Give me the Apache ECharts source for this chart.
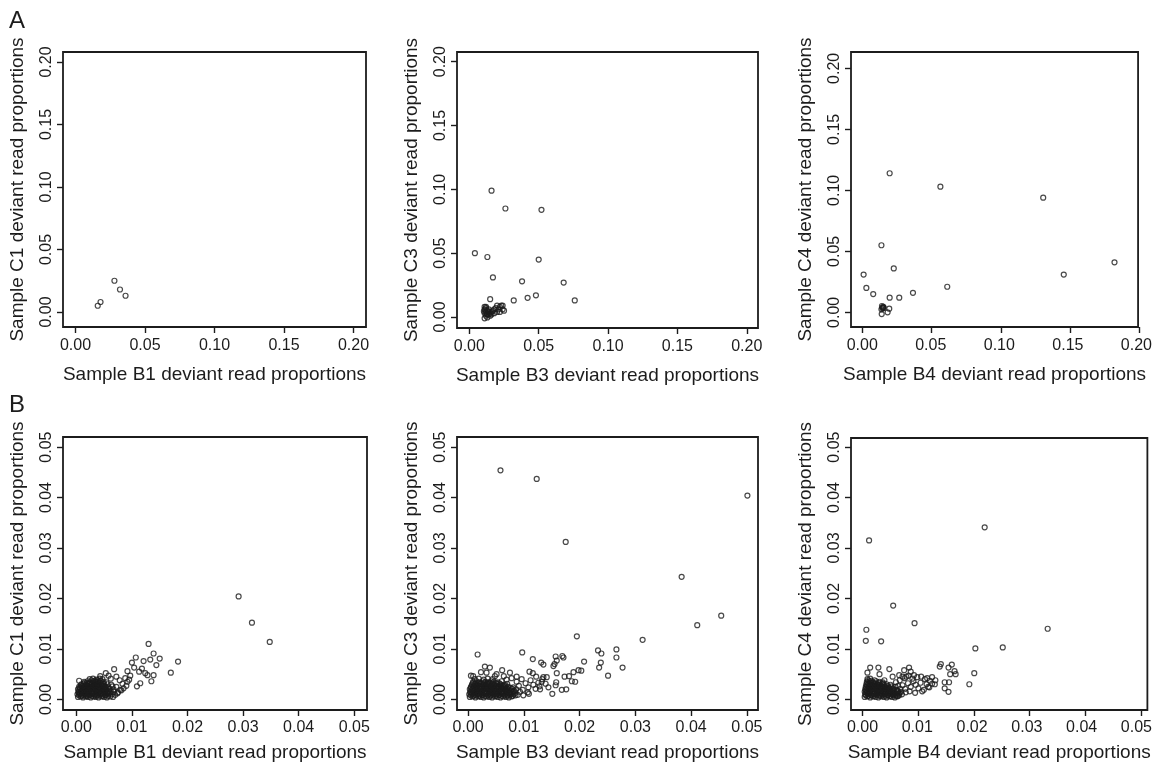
<!DOCTYPE html>
<html>
<head>
<meta charset="utf-8">
<title>Deviant read proportions</title>
<script src="https://cdn.jsdelivr.net/npm/echarts@6.0.0/dist/echarts.min.js"></script>
<style>
html, body { margin: 0; padding: 0; background: #fff; }
#chart { width: 1155px; height: 765px; }
</style>
</head>
<body>
<div id="chart"></div>
<script>
// tick labels
var topTicks = [0, 0.05, 0.10, 0.15, 0.20];
var bottomTicks = [0, 0.01, 0.02, 0.03, 0.04, 0.05];

var xNames = ['Sample B1 deviant read proportions', 'Sample B3 deviant read proportions', 'Sample B4 deviant read proportions'];
var yNames = ['Sample C1 deviant read proportions', 'Sample C3 deviant read proportions', 'Sample C4 deviant read proportions'];

// panel A  [B, C]
var a1Points = [[0.016, 0.005], [0.018, 0.008], [0.028, 0.025], [0.032, 0.018], [0.036, 0.013]];

var a2Points = [
    [0.004, 0.050], [0.013, 0.047], [0.016, 0.099], [0.026, 0.085], [0.052, 0.084], [0.050, 0.045],
    [0.017, 0.031], [0.038, 0.028], [0.068, 0.027], [0.048, 0.017], [0.015, 0.014], [0.042, 0.015],
    [0.032, 0.013], [0.076, 0.013],
    [0.011, 0.008], [0.011, 0.006], [0.012, 0.004], [0.011, 0.003], [0.012, 0.001], [0.011, -0.001],
    [0.013, -0.0003], [0.014, 0.002], [0.015, 0.001], [0.014, 0.004], [0.016, 0.004], [0.017, 0.005],
    [0.018, 0.006], [0.020, 0.009], [0.022, 0.008], [0.023, 0.009], [0.024, 0.006], [0.025, 0.005],
    [0.022, 0.004], [0.020, 0.004], [0.018, 0.003], [0.016, 0.002], [0.014, 0.006], [0.012, 0.008],
    [0.013, 0.005], [0.015, 0.003], [0.019, 0.007], [0.024, 0.009], [0.021, 0.006], [0.012, 0.007],
    [0.013, 0.002], [0.0115, 0.0055], [0.0125, 0.0025], [0.0105, 0.0045]
];

var a3Points = [
    [0.020, 0.114], [0.057, 0.103], [0.132, 0.094], [0.014, 0.055], [0.184, 0.041], [0.001, 0.031],
    [0.023, 0.036], [0.147, 0.031], [0.003, 0.020], [0.062, 0.021], [0.008, 0.015], [0.037, 0.016],
    [0.020, 0.012], [0.027, 0.012], [0.0144, 0.0052], [0.0152, 0.0041], [0.014, 0.0025], [0.0142, -0.0014],
    [0.0185, 0.0], [0.0197, 0.003], [0.0154, 0.0046], [0.0147, 0.0033], [0.0156, 0.0036], [0.0150, 0.0040]
];

// panel B  [B, C]: outliers and the outer part of the cloud
var b1Points = [
    [0.0292, 0.0204], [0.0316, 0.0152], [0.0348, 0.0114], [0.0183, 0.0075], [0.0170, 0.0053], [0.0130, 0.0110],
    [0.0139, 0.0091], [0.0150, 0.0081], [0.0144, 0.0068], [0.0139, 0.0048], [0.0135, 0.0036], [0.0128, 0.0048],
    [0.0121, 0.0076], [0.0133, 0.0079], [0.0107, 0.0083], [0.0100, 0.0073], [0.0104, 0.0063], [0.0113, 0.0055],
    [0.0109, 0.0026], [0.0115, 0.0032], [0.0092, 0.0056], [0.0068, 0.0060], [0.0053, 0.0052], [0.0043, 0.0046],
    [0.0005, 0.0037], [0.0118, 0.0061], [0.0124, 0.0052], [0.0097, 0.0047],
    [0.0003, 0.0005], [0.0008, 0.0006], [0.0012, 0.0004], [0.0017, 0.0006], [0.0021, 0.0005], [0.0026, 0.0004],
    [0.0031, 0.0006], [0.0035, 0.0005], [0.0040, 0.0004], [0.0045, 0.0006], [0.0050, 0.0005], [0.0055, 0.0004],
    [0.0061, 0.0006], [0.0066, 0.0005],
    [0.0002, 0.0010], [0.0006, 0.0011], [0.0011, 0.0009], [0.0015, 0.0011], [0.0020, 0.0010], [0.0024, 0.0009],
    [0.0029, 0.0011], [0.0034, 0.0010], [0.0038, 0.0009], [0.0043, 0.0011], [0.0048, 0.0010], [0.0053, 0.0009],
    [0.0058, 0.0011], [0.0064, 0.0010], [0.0070, 0.0009],
    [0.0004, 0.0015], [0.0009, 0.0016], [0.0013, 0.0014], [0.0018, 0.0016], [0.0022, 0.0015], [0.0027, 0.0014],
    [0.0032, 0.0016], [0.0036, 0.0015], [0.0041, 0.0014], [0.0046, 0.0016], [0.0051, 0.0015], [0.0056, 0.0014],
    [0.0062, 0.0016], [0.0068, 0.0015], [0.0075, 0.0014],
    [0.0003, 0.0020], [0.0007, 0.0021], [0.0012, 0.0019], [0.0016, 0.0021], [0.0021, 0.0020], [0.0025, 0.0019],
    [0.0030, 0.0021], [0.0034, 0.0020], [0.0039, 0.0019], [0.0044, 0.0021], [0.0049, 0.0020], [0.0054, 0.0019],
    [0.0060, 0.0021], [0.0067, 0.0020], [0.0079, 0.0019],
    [0.0005, 0.0025], [0.0010, 0.0026], [0.0014, 0.0024], [0.0019, 0.0026], [0.0023, 0.0025], [0.0028, 0.0024],
    [0.0033, 0.0026], [0.0037, 0.0025], [0.0042, 0.0024], [0.0047, 0.0026], [0.0052, 0.0025], [0.0058, 0.0024],
    [0.0065, 0.0026], [0.0072, 0.0025],
    [0.0009, 0.0030], [0.0013, 0.0031], [0.0018, 0.0029], [0.0022, 0.0031], [0.0027, 0.0030], [0.0031, 0.0029],
    [0.0036, 0.0031], [0.0040, 0.0030], [0.0045, 0.0029], [0.0050, 0.0031], [0.0056, 0.0030], [0.0063, 0.0029],
    [0.0014, 0.0035], [0.0020, 0.0036], [0.0025, 0.0034], [0.0030, 0.0036], [0.0035, 0.0035], [0.0039, 0.0034],
    [0.0044, 0.0036], [0.0049, 0.0035], [0.0054, 0.0034],
    [0.0024, 0.0040], [0.0030, 0.0041], [0.0036, 0.0039], [0.0042, 0.0041], [0.0047, 0.0040],
    [0.0072, 0.0045], [0.0078, 0.0038], [0.0083, 0.0031], [0.0088, 0.0042], [0.0092, 0.0035], [0.0085, 0.0022],
    [0.0090, 0.0027], [0.0095, 0.0039], [0.0081, 0.0018], [0.0074, 0.0012], [0.0062, 0.0041], [0.0058, 0.0047]
];

// panel B1: solid core of the cloud
var b1Core = [
    [0.0005, 0.0008], [0.0010, 0.0007], [0.0015, 0.0008], [0.0019, 0.0007], [0.0023, 0.0008], [0.0028, 0.0007],
    [0.0033, 0.0008], [0.0037, 0.0007], [0.0042, 0.0008], [0.0047, 0.0007], [0.0052, 0.0008], [0.0057, 0.0007],
    [0.0004, 0.0013], [0.0008, 0.0012], [0.0013, 0.0013], [0.0017, 0.0012], [0.0022, 0.0013], [0.0026, 0.0012],
    [0.0031, 0.0013], [0.0035, 0.0012], [0.0040, 0.0013], [0.0045, 0.0012], [0.0050, 0.0013], [0.0055, 0.0012],
    [0.0060, 0.0013],
    [0.0005, 0.0018], [0.0010, 0.0017], [0.0014, 0.0018], [0.0019, 0.0017], [0.0024, 0.0018], [0.0029, 0.0017],
    [0.0033, 0.0018], [0.0038, 0.0017], [0.0043, 0.0018], [0.0048, 0.0017], [0.0053, 0.0018], [0.0058, 0.0017],
    [0.0006, 0.0023], [0.0011, 0.0022], [0.0015, 0.0023], [0.0020, 0.0022], [0.0025, 0.0023], [0.0030, 0.0022],
    [0.0035, 0.0023], [0.0039, 0.0022], [0.0044, 0.0023], [0.0049, 0.0022], [0.0054, 0.0023],
    [0.0008, 0.0028], [0.0012, 0.0027], [0.0017, 0.0028], [0.0021, 0.0027], [0.0026, 0.0028], [0.0031, 0.0027],
    [0.0035, 0.0028], [0.0040, 0.0027], [0.0045, 0.0028], [0.0050, 0.0027],
    [0.0015, 0.0033], [0.0019, 0.0032], [0.0024, 0.0033], [0.0029, 0.0032], [0.0033, 0.0033], [0.0038, 0.0032],
    [0.0043, 0.0033], [0.0047, 0.0032],
    [0.0027, 0.0038], [0.0033, 0.0037], [0.0039, 0.0038], [0.0044, 0.0037]
];

var b2Points = [
    [0.0058, 0.0454], [0.0123, 0.0437], [0.0501, 0.0404], [0.0175, 0.0312], [0.0383, 0.0243], [0.0454, 0.0166],
    [0.0411, 0.0147], [0.0195, 0.0125], [0.0313, 0.0118], [0.0017, 0.0089], [0.0097, 0.0093], [0.0233, 0.0097],
    [0.0266, 0.0099], [0.0239, 0.0091], [0.0266, 0.0083], [0.0235, 0.0063], [0.0238, 0.0073], [0.0277, 0.0063],
    [0.0251, 0.0047], [0.0208, 0.0075], [0.0203, 0.0057], [0.0198, 0.0058], [0.0189, 0.0054], [0.0186, 0.0036],
    [0.0192, 0.0035], [0.0176, 0.0020], [0.0168, 0.0019], [0.0157, 0.0085], [0.0159, 0.0077], [0.0155, 0.0070],
    [0.0153, 0.0066], [0.0169, 0.0086], [0.0171, 0.0083], [0.0159, 0.0052], [0.0173, 0.0045], [0.0181, 0.0046],
    [0.0158, 0.0034], [0.0157, 0.0028], [0.0151, 0.0011], [0.0116, 0.0080], [0.0131, 0.0073], [0.0135, 0.0069],
    [0.0110, 0.0055], [0.0116, 0.0052], [0.0122, 0.0045], [0.0135, 0.0044], [0.0141, 0.0044], [0.0132, 0.0035],
    [0.0129, 0.0020], [0.0109, 0.0011], [0.0087, 0.0045], [0.0075, 0.0053], [0.0064, 0.0046], [0.0061, 0.0058],
    [0.0051, 0.0050], [0.0030, 0.0065], [0.0039, 0.0063], [0.0023, 0.0054], [0.0009, 0.0046], [0.0005, 0.0047],
    [0.0033, 0.0053], [0.0048, 0.0046],
    [0.0003, 0.0005], [0.0008, 0.0006], [0.0013, 0.0004], [0.0018, 0.0006], [0.0023, 0.0005], [0.0028, 0.0004],
    [0.0033, 0.0006], [0.0038, 0.0005], [0.0043, 0.0004], [0.0048, 0.0006], [0.0053, 0.0005], [0.0058, 0.0004],
    [0.0063, 0.0006], [0.0068, 0.0005], [0.0073, 0.0004], [0.0078, 0.0006],
    [0.0002, 0.0010], [0.0007, 0.0011], [0.0012, 0.0009], [0.0016, 0.0011], [0.0021, 0.0010], [0.0026, 0.0009],
    [0.0031, 0.0011], [0.0036, 0.0010], [0.0041, 0.0009], [0.0046, 0.0011], [0.0051, 0.0010], [0.0056, 0.0009],
    [0.0061, 0.0011], [0.0066, 0.0010], [0.0071, 0.0009], [0.0076, 0.0011], [0.0082, 0.0010], [0.0089, 0.0009],
    [0.0004, 0.0015], [0.0009, 0.0016], [0.0014, 0.0014], [0.0019, 0.0016], [0.0024, 0.0015], [0.0029, 0.0014],
    [0.0034, 0.0016], [0.0039, 0.0015], [0.0044, 0.0014], [0.0049, 0.0016], [0.0054, 0.0015], [0.0059, 0.0014],
    [0.0064, 0.0016], [0.0069, 0.0015], [0.0075, 0.0014], [0.0081, 0.0016], [0.0093, 0.0015],
    [0.0003, 0.0020], [0.0008, 0.0021], [0.0013, 0.0019], [0.0017, 0.0021], [0.0022, 0.0020], [0.0027, 0.0019],
    [0.0032, 0.0021], [0.0037, 0.0020], [0.0042, 0.0019], [0.0047, 0.0021], [0.0052, 0.0020], [0.0057, 0.0019],
    [0.0062, 0.0021], [0.0067, 0.0020], [0.0073, 0.0019], [0.0079, 0.0021], [0.0086, 0.0020], [0.0098, 0.0019],
    [0.0005, 0.0025], [0.0010, 0.0026], [0.0015, 0.0024], [0.0020, 0.0026], [0.0025, 0.0025], [0.0030, 0.0024],
    [0.0035, 0.0026], [0.0040, 0.0025], [0.0045, 0.0024], [0.0050, 0.0026], [0.0055, 0.0025], [0.0060, 0.0024],
    [0.0066, 0.0026], [0.0072, 0.0025], [0.0081, 0.0024],
    [0.0007, 0.0030], [0.0012, 0.0031], [0.0017, 0.0029], [0.0022, 0.0031], [0.0027, 0.0030], [0.0032, 0.0029],
    [0.0037, 0.0031], [0.0042, 0.0030], [0.0047, 0.0029], [0.0052, 0.0031], [0.0058, 0.0030], [0.0064, 0.0029],
    [0.0070, 0.0031],
    [0.0009, 0.0035], [0.0015, 0.0036], [0.0020, 0.0034], [0.0026, 0.0036], [0.0031, 0.0035], [0.0036, 0.0034],
    [0.0041, 0.0036], [0.0046, 0.0035], [0.0053, 0.0034], [0.0060, 0.0036],
    [0.0012, 0.0040], [0.0019, 0.0041], [0.0028, 0.0039], [0.0035, 0.0041], [0.0044, 0.0040],
    [0.0103, 0.0032], [0.0108, 0.0024], [0.0112, 0.0038], [0.0117, 0.0029], [0.0096, 0.0040], [0.0091, 0.0027],
    [0.0087, 0.0035], [0.0121, 0.0021], [0.0126, 0.0033], [0.0107, 0.0014], [0.0099, 0.0008], [0.0128, 0.0026],
    [0.0133, 0.0040], [0.0139, 0.0031], [0.0144, 0.0024], [0.0078, 0.0042], [0.0069, 0.0039]
];

var b2Core = [
    [0.0005, 0.0008], [0.0010, 0.0007], [0.0015, 0.0008], [0.0020, 0.0007], [0.0025, 0.0008], [0.0030, 0.0007],
    [0.0035, 0.0008], [0.0040, 0.0007], [0.0045, 0.0008], [0.0050, 0.0007], [0.0055, 0.0008], [0.0060, 0.0007],
    [0.0065, 0.0008], [0.0070, 0.0007], [0.0075, 0.0008], [0.0080, 0.0007], [0.0085, 0.0008],
    [0.0004, 0.0013], [0.0009, 0.0012], [0.0014, 0.0013], [0.0019, 0.0012], [0.0024, 0.0013], [0.0029, 0.0012],
    [0.0034, 0.0013], [0.0039, 0.0012], [0.0044, 0.0013], [0.0049, 0.0012], [0.0054, 0.0013], [0.0059, 0.0012],
    [0.0064, 0.0013], [0.0069, 0.0012], [0.0074, 0.0013], [0.0079, 0.0012], [0.0085, 0.0013],
    [0.0006, 0.0018], [0.0011, 0.0017], [0.0016, 0.0018], [0.0021, 0.0017], [0.0026, 0.0018], [0.0031, 0.0017],
    [0.0036, 0.0018], [0.0041, 0.0017], [0.0046, 0.0018], [0.0051, 0.0017], [0.0056, 0.0018], [0.0061, 0.0017],
    [0.0066, 0.0018], [0.0071, 0.0017], [0.0077, 0.0018], [0.0083, 0.0017],
    [0.0005, 0.0023], [0.0010, 0.0022], [0.0015, 0.0023], [0.0020, 0.0022], [0.0025, 0.0023], [0.0030, 0.0022],
    [0.0035, 0.0023], [0.0040, 0.0022], [0.0045, 0.0023], [0.0050, 0.0022], [0.0055, 0.0023], [0.0060, 0.0022],
    [0.0065, 0.0023], [0.0070, 0.0022], [0.0076, 0.0023],
    [0.0007, 0.0028], [0.0012, 0.0027], [0.0017, 0.0028], [0.0022, 0.0027], [0.0027, 0.0028], [0.0032, 0.0027],
    [0.0037, 0.0028], [0.0042, 0.0027], [0.0047, 0.0028], [0.0052, 0.0027], [0.0057, 0.0028], [0.0062, 0.0027],
    [0.0067, 0.0028],
    [0.0009, 0.0033], [0.0014, 0.0032], [0.0019, 0.0033], [0.0024, 0.0032], [0.0029, 0.0033], [0.0034, 0.0032],
    [0.0039, 0.0033], [0.0044, 0.0032], [0.0050, 0.0033], [0.0056, 0.0032]
];

var b3Points = [
    [0.0223, 0.0341], [0.0012, 0.0315], [0.0056, 0.0186], [0.0095, 0.0151], [0.0338, 0.0140], [0.0007, 0.0138],
    [0.0006, 0.0116], [0.0034, 0.0115], [0.0206, 0.0101], [0.0256, 0.0103], [0.0204, 0.0052], [0.0195, 0.0030],
    [0.0143, 0.0070], [0.0141, 0.0065], [0.0163, 0.0069], [0.0157, 0.0063], [0.0160, 0.0050], [0.0168, 0.0056],
    [0.0170, 0.0050], [0.0150, 0.0034], [0.0158, 0.0034], [0.0150, 0.0022], [0.0157, 0.0015], [0.0132, 0.0030],
    [0.0133, 0.0038], [0.0123, 0.0037], [0.0127, 0.0044], [0.0120, 0.0025], [0.0112, 0.0019], [0.0114, 0.0040],
    [0.0100, 0.0044], [0.0094, 0.0048], [0.0088, 0.0055], [0.0085, 0.0063], [0.0076, 0.0058], [0.0080, 0.0045],
    [0.0065, 0.0027], [0.0064, 0.0007], [0.0049, 0.0060], [0.0029, 0.0063], [0.0014, 0.0063], [0.0009, 0.0053],
    [0.0040, 0.0038], [0.0031, 0.0050], [0.0055, 0.0045], [0.0067, 0.0048], [0.0073, 0.0045],
    [0.0004, 0.0005], [0.0009, 0.0006], [0.0014, 0.0004], [0.0019, 0.0006], [0.0024, 0.0005], [0.0029, 0.0004],
    [0.0034, 0.0006], [0.0039, 0.0005], [0.0044, 0.0004], [0.0049, 0.0006], [0.0054, 0.0005], [0.0059, 0.0004],
    [0.0064, 0.0006],
    [0.0005, 0.0010], [0.0010, 0.0011], [0.0015, 0.0009], [0.0020, 0.0011], [0.0025, 0.0010], [0.0030, 0.0009],
    [0.0035, 0.0011], [0.0040, 0.0010], [0.0045, 0.0009], [0.0050, 0.0011], [0.0055, 0.0010], [0.0060, 0.0009],
    [0.0066, 0.0011], [0.0072, 0.0010],
    [0.0004, 0.0015], [0.0008, 0.0016], [0.0013, 0.0014], [0.0018, 0.0016], [0.0023, 0.0015], [0.0028, 0.0014],
    [0.0033, 0.0016], [0.0038, 0.0015], [0.0043, 0.0014], [0.0048, 0.0016], [0.0053, 0.0015], [0.0058, 0.0014],
    [0.0064, 0.0016], [0.0070, 0.0015], [0.0079, 0.0014],
    [0.0005, 0.0020], [0.0010, 0.0021], [0.0015, 0.0019], [0.0020, 0.0021], [0.0025, 0.0020], [0.0030, 0.0019],
    [0.0035, 0.0021], [0.0040, 0.0020], [0.0045, 0.0019], [0.0050, 0.0021], [0.0056, 0.0020], [0.0062, 0.0019],
    [0.0069, 0.0021],
    [0.0006, 0.0025], [0.0011, 0.0026], [0.0016, 0.0024], [0.0021, 0.0026], [0.0026, 0.0025], [0.0031, 0.0024],
    [0.0036, 0.0026], [0.0041, 0.0025], [0.0047, 0.0024], [0.0053, 0.0026], [0.0060, 0.0025],
    [0.0007, 0.0030], [0.0012, 0.0031], [0.0017, 0.0029], [0.0022, 0.0031], [0.0027, 0.0030], [0.0032, 0.0029],
    [0.0038, 0.0031], [0.0044, 0.0030], [0.0051, 0.0029],
    [0.0008, 0.0035], [0.0013, 0.0036], [0.0019, 0.0034], [0.0025, 0.0036], [0.0031, 0.0035], [0.0037, 0.0034],
    [0.0009, 0.0040], [0.0014, 0.0041],
    [0.0073, 0.0028], [0.0078, 0.0021], [0.0083, 0.0032], [0.0088, 0.0025], [0.0093, 0.0036], [0.0097, 0.0029],
    [0.0102, 0.0022], [0.0106, 0.0033], [0.0109, 0.0016], [0.0117, 0.0030], [0.0122, 0.0024], [0.0127, 0.0031],
    [0.0061, 0.0034], [0.0068, 0.0038], [0.0077, 0.0042], [0.0084, 0.0047], [0.0091, 0.0041], [0.0107, 0.0045],
    [0.0118, 0.0042], [0.0086, 0.0016], [0.0096, 0.0013]
];

var b3Core = [
    [0.0006, 0.0008], [0.0011, 0.0007], [0.0016, 0.0008], [0.0021, 0.0007], [0.0026, 0.0008], [0.0031, 0.0007],
    [0.0036, 0.0008], [0.0041, 0.0007], [0.0046, 0.0008], [0.0051, 0.0007], [0.0056, 0.0008], [0.0061, 0.0007],
    [0.0067, 0.0008],
    [0.0007, 0.0013], [0.0012, 0.0012], [0.0017, 0.0013], [0.0022, 0.0012], [0.0027, 0.0013], [0.0032, 0.0012],
    [0.0037, 0.0013], [0.0042, 0.0012], [0.0047, 0.0013], [0.0052, 0.0012], [0.0057, 0.0013], [0.0062, 0.0012],
    [0.0068, 0.0013],
    [0.0006, 0.0018], [0.0011, 0.0017], [0.0016, 0.0018], [0.0021, 0.0017], [0.0026, 0.0018], [0.0031, 0.0017],
    [0.0036, 0.0018], [0.0041, 0.0017], [0.0046, 0.0018], [0.0051, 0.0017], [0.0057, 0.0018], [0.0064, 0.0017],
    [0.0007, 0.0023], [0.0012, 0.0022], [0.0017, 0.0023], [0.0022, 0.0022], [0.0027, 0.0023], [0.0032, 0.0022],
    [0.0037, 0.0023], [0.0042, 0.0022], [0.0048, 0.0023], [0.0055, 0.0022],
    [0.0008, 0.0028], [0.0013, 0.0027], [0.0018, 0.0028], [0.0023, 0.0027], [0.0028, 0.0028], [0.0033, 0.0027],
    [0.0039, 0.0028], [0.0046, 0.0027],
    [0.0009, 0.0033], [0.0014, 0.0032], [0.0019, 0.0033], [0.0024, 0.0032], [0.0030, 0.0033], [0.0036, 0.0032],
    [0.0010, 0.0038], [0.0016, 0.0037], [0.0022, 0.0038]
];

// layout: box = [left, top, width, height] in px, x / y = axis extent of that box
var panels = [
    { box: [63, 52, 303, 275], x: [-0.009, 0.209], y: [-0.012, 0.208], ticks: topTicks, data: a1Points, col: 0, row: 0 },
    { box: [457, 52, 301, 276], x: [-0.0089, 0.2081], y: [-0.0086, 0.2076], ticks: topTicks, data: a2Points, col: 1, row: 0 },
    { box: [851, 52, 290, 275], x: [-0.0082, 0.2012], y: [-0.012, 0.2134], ticks: topTicks, data: a3Points, col: 2, row: 0 },
    { box: [63, 437, 304, 273], x: [-0.0024, 0.0523], y: [-0.0021, 0.052], ticks: bottomTicks, data: b1Points.concat(b1Core), col: 0, row: 1 },
    { box: [457, 437, 301, 273], x: [-0.002, 0.052], y: [-0.0021, 0.052], ticks: bottomTicks, data: b2Points.concat(b2Core), col: 1, row: 1 },
    { box: [851, 438, 301, 272], x: [-0.0021, 0.052], y: [-0.0021, 0.0518], ticks: bottomTicks, data: b3Points.concat(b3Core), col: 2, row: 1 }
];

var fontFamily = '"Liberation Sans", Arial, Helvetica, sans-serif';
var ink = '#1c1c1c';
var n = panels.length;
var pad = 12; // tick grids reach this far past the frame so the ticks fall inside them

var grids = [], xAxes = [], yAxes = [], series = [];

function labelOpt(ticks, margin, rotate) {
    return {
        customValues: ticks,
        margin: margin,
        rotate: rotate,
        fontFamily: fontFamily, fontSize: 16, color: ink,
        formatter: function (v) { return v.toFixed(2); }
    };
}

// axis that only draws ticks; it sits "on zero" of the helper in its grid
function tickAxis(gridIndex, min, max, ticks) {
    return {
        gridIndex: gridIndex,
        type: 'value',
        min: min,
        max: max,
        axisLine: { show: false, onZero: true },
        splitLine: { show: false },
        axisTick: { show: true, length: 6, customValues: ticks, lineStyle: { color: ink, width: 1.4 } },
        axisLabel: { show: false }
    };
}

// helper axis: kept "shown" so onZero can use it, but every part of it is hidden
function helperAxis(gridIndex, min) {
    return {
        gridIndex: gridIndex,
        type: 'value',
        min: min,
        max: 1,
        axisLine: { show: false, onZero: false },
        axisTick: { show: false },
        axisLabel: { show: false },
        splitLine: { show: false }
    };
}

panels.forEach(function (p, i) {
    var w = p.box[2], h = p.box[3];

    // frame, labels and names
    grids[i] = {
        left: p.box[0], top: p.box[1], width: w, height: h,
        show: true, borderColor: ink, borderWidth: 1.8, backgroundColor: 'transparent'
    };
    xAxes[i] = {
        gridIndex: i,
        type: 'value',
        min: p.x[0],
        max: p.x[1],
        name: xNames[p.col],
        nameLocation: 'middle',
        nameGap: p.row == 0 ? 38 : 33,
        nameTextStyle: { fontFamily: fontFamily, fontSize: 19, color: ink },
        axisLine: { show: false, onZero: false },
        splitLine: { show: false },
        axisTick: { show: false },
        axisLabel: labelOpt(p.ticks, p.row == 0 ? 11 : 10, 0)
    };
    yAxes[i] = {
        gridIndex: i,
        type: 'value',
        min: p.y[0],
        max: p.y[1],
        name: yNames[p.col],
        nameLocation: 'middle',
        nameGap: 36,
        nameRotate: 90,
        nameTextStyle: { fontFamily: fontFamily, fontSize: 19, color: ink },
        axisLine: { show: false, onZero: false },
        splitLine: { show: false },
        axisTick: { show: false },
        axisLabel: labelOpt(p.ticks, 8, 90)
    };

    // x ticks: grid reaches `pad` px below the frame, helper y has its zero on the frame bottom
    grids[n + i] = { left: p.box[0], top: p.box[1], width: w, height: h + pad };
    xAxes[n + i] = tickAxis(n + i, p.x[0], p.x[1], p.ticks);
    yAxes[n + i] = helperAxis(n + i, -pad / h);

    // y ticks: grid reaches `pad` px left of the frame, helper x has its zero on the frame left
    grids[2 * n + i] = { left: p.box[0] - pad, top: p.box[1], width: w + pad, height: h };
    xAxes[2 * n + i] = helperAxis(2 * n + i, -pad / w);
    yAxes[2 * n + i] = tickAxis(2 * n + i, p.y[0], p.y[1], p.ticks);

    series.push({
        type: 'scatter',
        xAxisIndex: i,
        yAxisIndex: i,
        symbol: 'circle',
        symbolSize: 5,
        itemStyle: { color: 'rgba(0,0,0,0)', borderColor: ink, borderWidth: 1.2 },
        emphasis: { disabled: true },
        data: p.data
    });
});

var myChart = echarts.init(document.getElementById('chart'));
myChart.setOption({
    animation: false,
    backgroundColor: '#fff',
    grid: grids,
    xAxis: xAxes,
    yAxis: yAxes,
    series: series,
    graphic: [
        { type: 'text', left: 9, top: 9, style: { text: 'A', fontFamily: fontFamily, fontSize: 24, fill: ink } },
        { type: 'text', left: 9, top: 393, style: { text: 'B', fontFamily: fontFamily, fontSize: 24, fill: ink } }
    ]
});
</script>
</body>
</html>
